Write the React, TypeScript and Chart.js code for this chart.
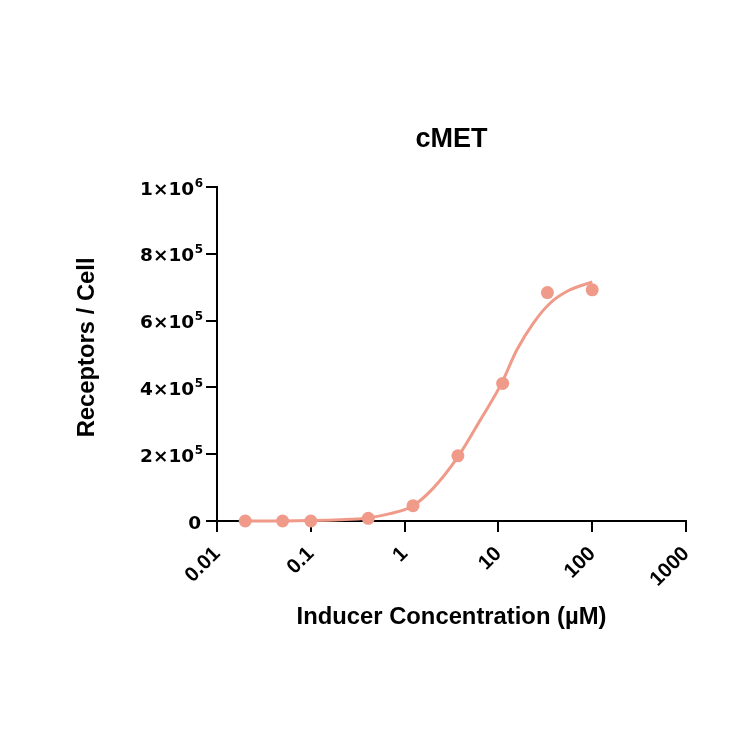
import React, { useEffect, useRef } from "react";
import { Chart, registerables } from "chart.js";

Chart.register(...registerables);

const concentrations = [0.02, 0.05, 0.1, 0.41, 1.23, 3.7, 11.1, 33.3, 100];
const receptors = [0, 0, 0, 8000, 46000, 195000, 412000, 684000, 692000];

const fitX = [0.02, 0.05, 0.1, 0.2, 0.4, 0.7, 1.2, 2, 3.7, 6.4, 10.8, 15.7, 23.5, 35.5, 53.5, 100];
const fitY = [0, 300, 1200, 3500, 9000, 22000, 44000, 97000, 192000, 302000, 412000, 512000, 592000, 652000, 687000, 716000];

const xTickValues = [0.01, 0.1, 1, 10, 100, 1000];
const xTickLabels = ["0.01", "0.1", "1", "10", "100", "1000"];
const yTickValues = [0, 200000, 400000, 600000, 800000, 1000000];
const yTickBases = ["0", "2×10", "4×10", "6×10", "8×10", "1×10"];
const yTickExponents = ["", "5", "5", "5", "5", "6"];

const SALMON = "rgb(240,154,138)";
const FONT = "'Liberation Sans', Arial, sans-serif";
const TICK_FONT = "'DejaVu Sans', sans-serif";

const yTickLabelPlugin = {
  id: "yTickLabels",
  afterDraw(chart: any) {
    const scale = chart.scales.y;
    const ctx = chart.ctx;
    const rightEdge = scale.right - 11 - 3;
    ctx.save();
    ctx.fillStyle = "#000";
    ctx.textBaseline = "alphabetic";
    ctx.textAlign = "left";
    yTickValues.forEach((v, i) => {
      const y = scale.getPixelForValue(v);
      const base = yTickBases[i];
      const exp = yTickExponents[i];
      ctx.font = `bold 12px ${TICK_FONT}`;
      const expW = exp ? ctx.measureText(exp).width : 0;
      ctx.font = `bold 18.5px ${TICK_FONT}`;
      const baseW = ctx.measureText(base).width;
      const baseX = rightEdge - expW - (exp ? 0.5 : 2) - baseW;
      ctx.fillText(base, baseX, y + 7.6);
      if (exp) {
        ctx.font = `bold 12px ${TICK_FONT}`;
        ctx.fillText(exp, rightEdge - expW, y - 0.5);
      }
    });
    ctx.restore();
  },
};

export default function App() {
  const ref = useRef<HTMLCanvasElement | null>(null);

  useEffect(() => {
    if (!ref.current) return;
    const chart = new Chart(ref.current, {
      type: "scatter",
      data: {
        datasets: [
          {
            type: "scatter",
            data: concentrations.map((x, i) => ({ x, y: receptors[i] })),
            backgroundColor: SALMON,
            borderColor: SALMON,
            pointRadius: 6.5,
            pointHoverRadius: 6.5,
            borderWidth: 0,
            clip: false,
          } as any,
          {
            type: "line",
            data: fitX.map((x, i) => ({ x, y: fitY[i] })),
            borderColor: SALMON,
            borderWidth: 3,
            pointRadius: 0,
            fill: false,
            tension: 0.4,
            cubicInterpolationMode: "monotone",
            clip: false,
          } as any,
        ],
      },
      options: {
        responsive: false,
        animation: false,
        layout: { padding: { left: 0, right: 64, top: 0, bottom: 0 } },
        plugins: {
          legend: { display: false },
          tooltip: { enabled: false },
          title: {
            display: true,
            text: "cMET",
            fullSize: false,
            color: "#000",
            font: { family: FONT, size: 27, weight: "bold", lineHeight: 1.2 },
            padding: { top: 123.3, bottom: 31.3 },
          },
        },
        scales: {
          x: {
            type: "logarithmic",
            min: 0.01,
            max: 1000,
            afterBuildTicks: (scale: any) => {
              scale.ticks = xTickValues.map((v) => ({ value: v }));
            },
            afterFit: (scale: any) => {
              scale.height = 229;
            },
            ticks: {
              autoSkip: false,
              minRotation: 45,
              maxRotation: 45,
              padding: 10,
              color: "#000",
              font: { family: FONT, size: 20.5, weight: "bold" },
              callback: (v: any) => {
                const idx = xTickValues.indexOf(Number(v));
                return idx >= 0 ? xTickLabels[idx] : "";
              },
            },
            grid: {
              display: true,
              drawOnChartArea: false,
              drawTicks: true,
              tickLength: 11,
              color: "#000",
              lineWidth: 2,
            },
            border: { display: true, color: "#000", width: 2 },
            title: {
              display: true,
              text: "Inducer Concentration (µM)",
              color: "#000",
              font: { family: FONT, size: 23.8, weight: "bold", lineHeight: 1.2 },
              padding: { top: 0, bottom: 118.7 },
            },
          },
          y: {
            type: "linear",
            min: 0,
            max: 1000000,
            afterBuildTicks: (scale: any) => {
              scale.ticks = yTickValues.map((v) => ({ value: v }));
            },
            afterFit: (scale: any) => {
              scale.width = 217;
            },
            ticks: {
              autoSkip: false,
              padding: 4,
              color: "rgba(0,0,0,0)",
              font: { family: TICK_FONT, size: 18, weight: "bold" },
              callback: (v: any) => {
                const idx = yTickValues.indexOf(Number(v));
                return idx >= 0 ? yTickBases[idx] + yTickExponents[idx] : "";
              },
            },
            grid: {
              display: true,
              drawOnChartArea: false,
              drawTicks: true,
              tickLength: 11,
              color: "#000",
              lineWidth: 2,
            },
            border: { display: true, color: "#000", width: 2 },
            title: {
              display: true,
              text: "  Receptors / Cell",
              color: "#000",
              font: { family: FONT, size: 23.8, weight: "bold", lineHeight: 1.2 },
              padding: { top: 72.7, bottom: 0 },
            },
          },
        },
      },
      plugins: [yTickLabelPlugin],
    });
    return () => chart.destroy();
  }, []);

  return (
    <div style={{ position: "absolute", left: 0, top: 0, width: 750, height: 750, background: "#fff" }}>
      <canvas ref={ref} width={750} height={750} style={{ width: 750, height: 750 }} />
    </div>
  );
}
